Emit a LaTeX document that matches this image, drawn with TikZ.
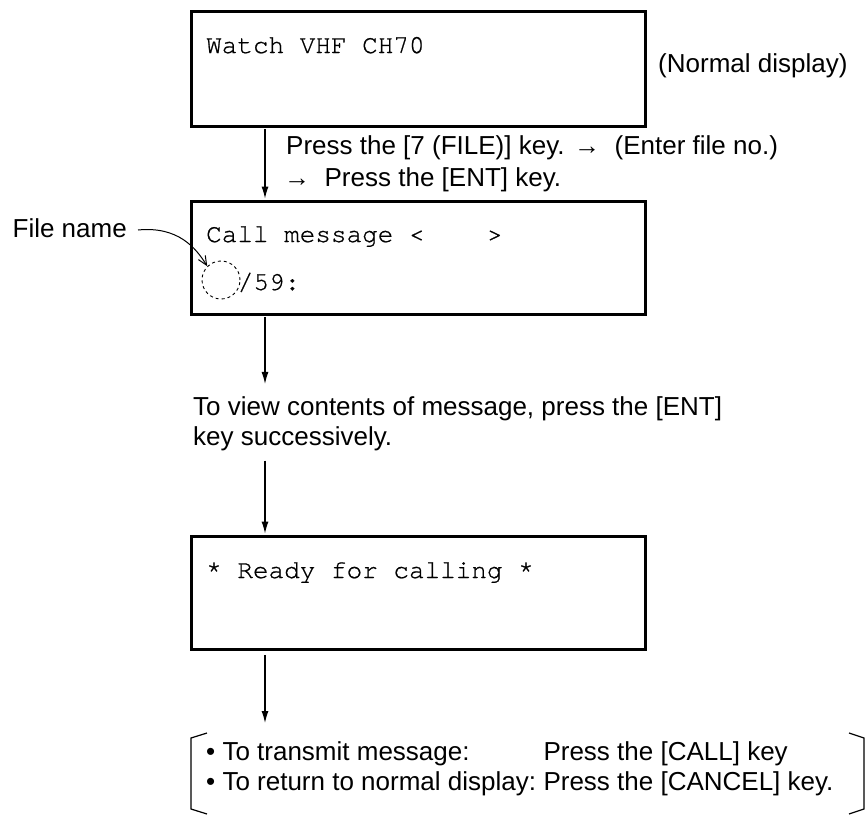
\documentclass[tikz,border=0pt]{standalone}
\usepackage{fontspec}
\setmainfont{Liberation Sans}
\setmonofont{TeX Gyre Cursor}[FakeBold=0.8]
\usetikzlibrary{arrows.meta,calc}
\begin{document}
\begin{tikzpicture}[x=1pt,y=-1pt,
  dispbox/.style={draw,line width=2.8pt,minimum width=454pt,inner sep=0pt,anchor=north west},
  arr/.style={line width=1.2pt,-{Latex[length=12pt,width=7pt]}},
  sans/.style={font=\fontsize{26}{30}\selectfont,inner sep=0pt,anchor=base west},
  mono/.style={font=\fontsize{26}{30}\selectfont\ttfamily,inner sep=0pt,anchor=base west},
  brk/.style={line width=1.2pt},
]
\useasboundingbox (0,0) rectangle (867,815);

% display boxes
\node[dispbox,minimum height=115pt] (b1) at (190,10) {};
\node[dispbox,minimum height=113pt] (b2) at (190,200) {};
\node[dispbox,minimum height=113pt] (b3) at (190,535) {};

% box texts
\node[mono] (t1) at (206,53) {Watch VHF CH70};
\node[mono] (t2) at (206,242) {Call message <\ \ \ \ >};
\node[mono] (t3) at (237.6,290) {/59:};
\node[circle,draw,dashed,line width=0.9pt,minimum size=38pt,inner sep=0pt] (fc) at (221,280) {};
\node[mono] (t4) at (206,578) {* Ready for calling *};

% side texts
\node[sans] (nd) at (658,72) {(Normal display)};
\node[sans] (p1) at (286,154) {Press the [7 (FILE)] key. → \ (Enter file no.)};
\node[sans] (p2) at (284,186) {→ \ Press the [ENT] key.};
\node[sans,anchor=base east] (fn) at (127,237) {File name};
\node[sans] (v1) at (193,415) {To view contents of message, press the [ENT]};
\node[sans] (v2) at (193,445) {key successively.};

% final notes
\node[sans] (l2a) at (206,790) {• To return to normal display:};
\node[sans] (l2b) at ($(l2a.base east)+(7,0)$) {Press the [CANCEL] key.};
\node[sans] (l1a) at (206,760) {• To transmit message:};
\node[sans] (l1b) at (l2b.base west |- l1a.base) {Press the [CALL] key};

% brackets
\draw[brk] (207,733) -- (191,738) -- (191,809) -- (207,814);
\draw[brk] (849,733) -- (864,738) -- (864,809) -- (849,814);

% connectors
\coordinate (a1s) at ($(b1.south west)+(75,0)$);
\coordinate (a1e) at ($(b2.north west)+(75,0)$);
\draw[arr,shorten >=1.4pt,shorten <=1.4pt] (a1s) -- (a1e);
\coordinate (a2s) at ($(b2.south west)+(75,0)$);
\draw[arr,shorten <=1.4pt,shorten >=12pt] (a2s) -- (a2s |- v1.north);
\coordinate (a3e) at ($(b3.north west)+(75,0)$);
\draw[arr,shorten <=10pt,shorten >=1.4pt] (a3e |- v2.south) -- (a3e);
\coordinate (a4s) at ($(b3.south west)+(75,0)$);
\coordinate (brtop) at (265,723);
\draw[arr,shorten <=4pt] (a4s) -- (brtop);

% file name pointer
\draw[line width=1pt,-{Straight Barb[length=9pt,width=8pt]}] ($(fn.base east)+(11,-7)$) .. controls (178,226) and (196,248) .. (fc.north west);
\end{tikzpicture}
\end{document}
